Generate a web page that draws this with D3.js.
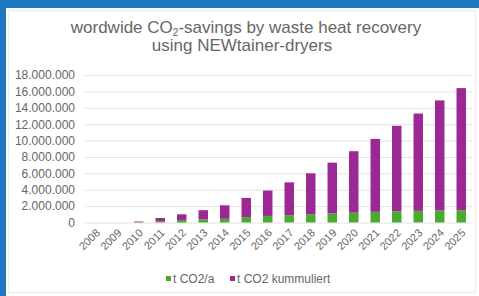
<!DOCTYPE html>
<html>
<head>
<meta charset="utf-8">
<script src="https://d3js.org/d3.v7.min.js"></script>
<style>
  body { margin: 0; background: #1f78c1; }
  svg { display: block; font-family: "Liberation Sans", Arial, sans-serif; }
</style>
</head>
<body>
<svg width="479" height="296"></svg>
<script>
// data (tonnes CO2)
var years = ["2008","2009","2010","2011","2012","2013","2014","2015","2016","2017","2018","2019","2020","2021","2022","2023","2024","2025"];
var annual = [0, 0, 30000, 150000, 300000, 380000, 450000, 650000, 800000, 900000, 1000000, 1100000, 1200000, 1300000, 1380000, 1420000, 1470000, 1500000];
var cumulated = [0, 0, 90000, 400000, 700000, 1120000, 1650000, 2350000, 3100000, 4000000, 5000000, 6200000, 7500000, 8900000, 10420000, 11880000, 13430000, 14900000];
var yTicks = [0, 2000000, 4000000, 6000000, 8000000, 10000000, 12000000, 14000000, 16000000, 18000000];
var seriesNames = ["t CO2/a", "t CO2 kummuliert"];
var seriesColors = ["#4aa92f", "#9b2895"];

var width = 479, height = 296;
var margin = {top: 75, right: 7, bottom: 74, left: 85};
var textColor = "#666666";

var svg = d3.select("svg");

// card
svg.append("rect")
  .attr("x", 6).attr("y", 8)
  .attr("width", width - 6).attr("height", height - 8)
  .attr("fill", "#ffffff");
svg.append("rect")
  .attr("x", 8.5).attr("y", 10.5)
  .attr("width", width - 12).attr("height", height - 14)
  .attr("fill", "none")
  .attr("stroke", "#ececec");

// title
var title = svg.append("text")
  .attr("x", 246).attr("y", 33)
  .attr("text-anchor", "middle")
  .attr("fill", textColor)
  .style("font-size", "17px");
title.append("tspan").text("wordwide CO");
title.append("tspan").attr("dy", 2.5).style("font-size", "10px").text("2");
title.append("tspan").attr("dy", -2.5).text("-savings by waste heat recovery");
svg.append("text")
  .attr("x", 242).attr("y", 50.5)
  .attr("text-anchor", "middle")
  .attr("fill", textColor)
  .style("font-size", "17px")
  .text("using NEWtainer-dryers");

var x = d3.scaleBand()
  .domain(years)
  .range([margin.left, width - margin.right])
  .paddingInner(0.56)
  .paddingOuter(0.28);

var y = d3.scaleLinear()
  .domain([0, 18000000])
  .range([222.5, margin.top]);

var fmt = function(v) { return d3.format(",")(v).replace(/,/g, "."); };

// gridlines + y labels
var yAxis = svg.append("g")
  .attr("transform", "translate(" + margin.left + ",0)")
  .call(d3.axisLeft(y).tickValues(yTicks).tickSize(-(width - margin.right - margin.left)).tickFormat(fmt).tickPadding(10));
yAxis.select(".domain").remove();
yAxis.selectAll(".tick line").attr("stroke", "#e3e3e3");
yAxis.selectAll(".tick text")
  .attr("fill", textColor)
  .style("font-size", "12px")
  .style("font-family", "Liberation Sans, Arial, sans-serif");

// stacked bars
var rows = years.map(function(yr, i) { return {year: yr, a: annual[i], k: cumulated[i]}; });
var stack = d3.stack().keys(["a", "k"])(rows);

svg.append("g").selectAll("g")
  .data(stack)
  .join("g")
  .attr("fill", function(d, i) { return seriesColors[i]; })
  .selectAll("rect")
  .data(function(d) { return d; })
  .join("rect")
  .attr("x", function(d) { return x(d.data.year); })
  .attr("width", x.bandwidth())
  .attr("y", function(d) { return y(d[1]); })
  .attr("height", function(d) { return y(d[0]) - y(d[1]); });

// x axis labels
var xAxis = svg.append("g")
  .attr("transform", "translate(0,222.5)")
  .call(d3.axisBottom(x).tickSize(0).tickPadding(0));
xAxis.select(".domain").remove();
xAxis.selectAll(".tick text")
  .attr("fill", textColor)
  .style("font-size", "11px")
  .style("font-family", "Liberation Sans, Arial, sans-serif")
  .attr("text-anchor", "end")
  .attr("dy", 0)
  .attr("transform", "translate(5,11) rotate(-45)");

// legend
var legendX = [166, 230];
var legend = svg.append("g").selectAll("g")
  .data(seriesNames)
  .join("g")
  .attr("transform", function(d, i) { return "translate(" + legendX[i] + ",279)"; });
legend.append("rect")
  .attr("x", 0).attr("y", -3)
  .attr("width", 5).attr("height", 5)
  .attr("fill", function(d, i) { return seriesColors[i]; });
legend.append("text")
  .attr("x", 7).attr("y", 3.5)
  .attr("fill", textColor)
  .style("font-size", "12px")
  .text(function(d) { return d; });
</script>
</body>
</html>
